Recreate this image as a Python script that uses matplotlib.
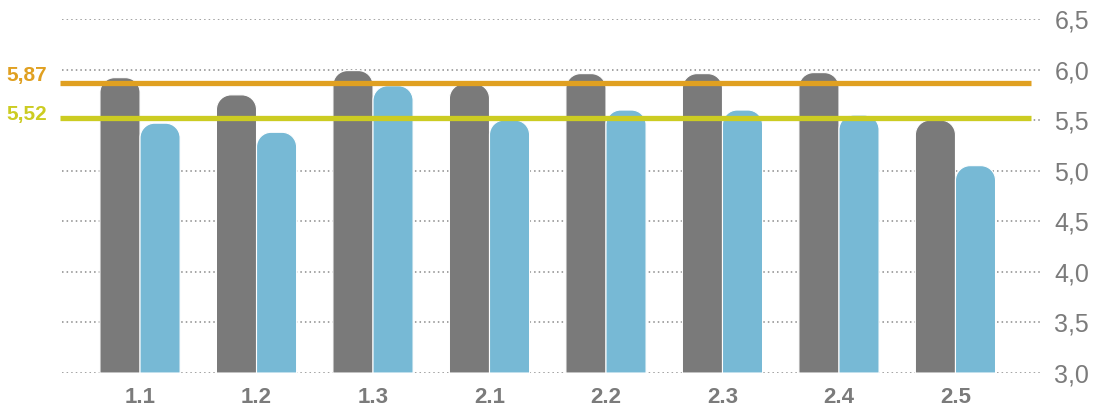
import numpy as np
import matplotlib
matplotlib.use("Agg")
import matplotlib.pyplot as plt
from matplotlib.path import Path
from matplotlib.patches import PathPatch

categories = ["1.1", "1.2", "1.3", "2.1", "2.2", "2.3", "2.4", "2.5"]
gray_vals = [5.92, 5.75, 5.99, 5.86, 5.96, 5.96, 5.97, 5.50]
blue_vals = [5.47, 5.38, 5.84, 5.50, 5.60, 5.60, 5.55, 5.05]
ref_orange = 5.87
ref_green = 5.52
yticks = [3.0, 3.5, 4.0, 4.5, 5.0, 5.5, 6.0, 6.5]

GRAY = "#7a7a7a"
BLUE = "#77b9d5"
ORANGE = "#e0a021"
GREEN = "#cccc22"
TXT = "#7b7b7b"

BASE = 3.0
W = 0.344          # bar width in data units
RX, RY = 0.125, 0.145  # corner radius (x, y data units)
K = 0.5523


def rounded_bar(ax, x0, w, top, color):
    x1 = x0 + w
    rx, ry = min(RX, w / 2), min(RY, top - BASE)
    verts = [
        (x0, BASE), (x0, top - ry),
        (x0, top - ry + K * ry), (x0 + rx - K * rx, top), (x0 + rx, top),
        (x1 - rx, top),
        (x1 - rx + K * rx, top), (x1, top - ry + K * ry), (x1, top - ry),
        (x1, BASE), (x0, BASE),
    ]
    codes = [Path.MOVETO, Path.LINETO,
             Path.CURVE4, Path.CURVE4, Path.CURVE4,
             Path.LINETO,
             Path.CURVE4, Path.CURVE4, Path.CURVE4,
             Path.LINETO, Path.CLOSEPOLY]
    ax.add_patch(PathPatch(Path(verts, codes), facecolor=color,
                           edgecolor="white", lw=0.8, zorder=3))


fig = plt.figure(figsize=(10.97, 4.09), dpi=100)
ax = fig.add_axes([0.0565, 0.088, 0.892, 0.8655])

x = np.arange(len(categories))
for xi, g, b in zip(x, gray_vals, blue_vals):
    rounded_bar(ax, xi - W, W, g, GRAY)
    rounded_bar(ax, xi, W, b, BLUE)

ax.set_xlim(-0.67, 7.73)
ax.set_ylim(3.0, 6.5)

# reference lines
ax.hlines(ref_orange, -0.69, 7.65, color=ORANGE, lw=3.8, zorder=4, clip_on=False)
ax.hlines(ref_green, -0.69, 7.65, color=GREEN, lw=3.8, zorder=4, clip_on=False)
ax.text(-0.97, ref_orange + 0.07, "5,87", color=ORANGE, fontsize=15,
        fontweight="bold", ha="center", va="center", family="Liberation Sans")
ax.text(-0.97, ref_green + 0.04, "5,52", color=GREEN, fontsize=15,
        fontweight="bold", ha="center", va="center", family="Liberation Sans")

ax.set_yticks(yticks)
ax.set_yticklabels([f"{v:.1f}".replace(".", ",") for v in yticks],
                   fontsize=18, color=TXT, family="Liberation Sans")
ax.yaxis.tick_right()
ax.tick_params(axis="y", length=0, pad=10)
ax.yaxis.grid(True, linestyle=(0, (1, 2)), color="#8a8a8a", lw=1.1, zorder=0)

ax.set_xticks(x)
ax.set_xticklabels(categories, fontsize=16, fontweight="bold", color=TXT,
                   family="Liberation Sans")
ax.tick_params(axis="x", length=0, pad=10)

for s in ax.spines.values():
    s.set_visible(False)
ax.set_axisbelow(True)

fig.savefig("out.png", dpi=100)
